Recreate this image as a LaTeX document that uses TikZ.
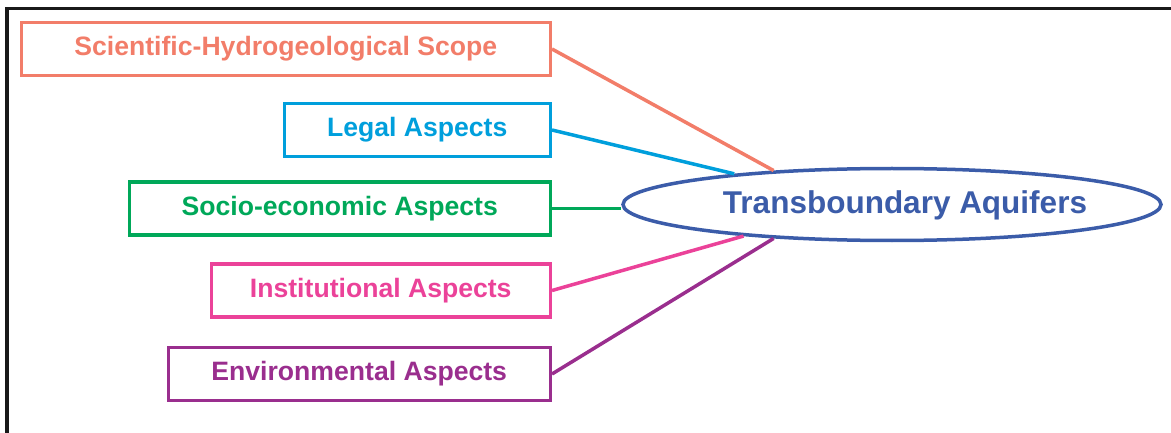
\documentclass[tikz,border=0pt]{standalone}
\usepackage{fontspec}
\setmainfont{Liberation Sans}
\usepackage{tikz}
\usetikzlibrary{shapes.geometric}

\definecolor{scicolor}{HTML}{F27D69}
\definecolor{legalcolor}{HTML}{009FDC}
\definecolor{sociocolor}{HTML}{00A859}
\definecolor{instcolor}{HTML}{EB4299}
\definecolor{envcolor}{HTML}{9A2E8E}
\definecolor{aquicolor}{HTML}{3B5CA9}

\begin{document}
\begin{tikzpicture}[x=1pt, y=-1pt,
  aspect/.style={draw=#1, text=#1, line width=3.5pt, minimum height=53pt,
    inner sep=0pt, anchor=east, font=\bfseries\fontsize{26.6}{30}\selectfont},
  link/.style={draw=#1, line width=3.5pt}]
\useasboundingbox (0,0) rectangle (1171,433);

% Draw the frame
\draw[line width=3.5pt, black!90] (7,433) -- (7,8.5) -- (1171,8.5);

% Draw the aspect boxes
\node[aspect=scicolor, minimum width=529pt] (sci) at (552,49) {Scientific-Hydrogeological Scope};
\node[aspect=legalcolor, minimum width=266pt] (legal) at (552,130) {Legal Aspects};
\node[aspect=sociocolor, minimum width=421pt] (socio) at (552,208.5) {Socio-economic Aspects};
\node[aspect=instcolor, minimum width=339pt] (inst) at (552,290.5) {Institutional Aspects};
\node[aspect=envcolor, minimum width=382pt] (env) at (552,374) {Environmental Aspects};

% Draw the central ellipse
\node[ellipse, draw=aquicolor, fill=white, line width=3.5pt, inner sep=0pt,
  minimum width=538pt, minimum height=72pt] (aq) at (892,204.5) {};
\node[text=aquicolor, font=\bfseries\fontsize{31.5}{36}\selectfont, anchor=base]
  (aqtext) at (905,214) {Transboundary Aquifers};

% Draw the links
\draw[link=scicolor] (sci.east) -- (aq.164.7);
\draw[link=legalcolor] (legal.east) -- (aq.169.2);
\draw[link=sociocolor] (socio.east) -- (socio.east -| aq.west);
\draw[link=instcolor] (inst.east) -- (aq.192.2);
\draw[link=envcolor] (env.east) -- (aq.196.4);

\end{tikzpicture}
\end{document}
